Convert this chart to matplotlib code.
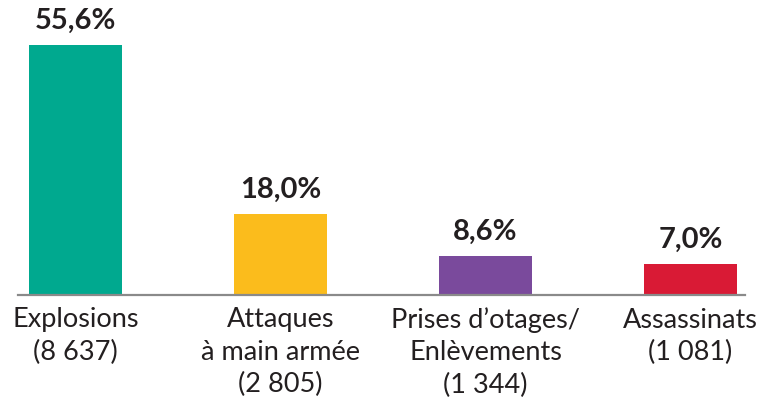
import matplotlib
matplotlib.use("Agg")
import matplotlib.pyplot as plt

categories = ["Explosions\n(8 637)", "Attaques\nà main armée\n(2 805)",
              "Prises d’otages/\nEnlèvements\n(1 344)", "Assassinats\n(1 081)"]
values = [55.6, 18.0, 8.6, 7.0]
value_labels = ["55,6%", "18,0%", "8,6%", "7,0%"]
colors = ["#00a98f", "#fbbc1c", "#7a4a9c", "#d91a35"]

plt.rcParams['font.family'] = ['Lato', 'DejaVu Sans']
text_color = "#231f20"

fig = plt.figure(figsize=(7.71, 4.01), dpi=100)
ax = fig.add_axes([18/771, 1-295/401, 727/771, 295/401])
x = list(range(len(values)))
bars = ax.bar(x, values, width=0.455, color=colors)
ax.set_xlim(-0.28, 3.266)
ax.set_ylim(0, 65.6)

for xi, v, lab in zip(x, values, value_labels):
    ax.annotate(lab, (xi, v), xytext=(0, 8), textcoords="offset points",
                ha="center", va="bottom", fontsize=21, fontweight="bold",
                color=text_color)

ax.set_xticks(x)
ax.set_xticklabels(categories, fontsize=19.5, color=text_color, linespacing=1.36)
ax.tick_params(axis="x", length=0, pad=9)
ax.set_yticks([])
for s in ["top", "right", "left"]:
    ax.spines[s].set_visible(False)
ax.spines["bottom"].set_color("#8a8a8a")
ax.spines["bottom"].set_linewidth(1.6)

fig.savefig("out.png", dpi=100)
